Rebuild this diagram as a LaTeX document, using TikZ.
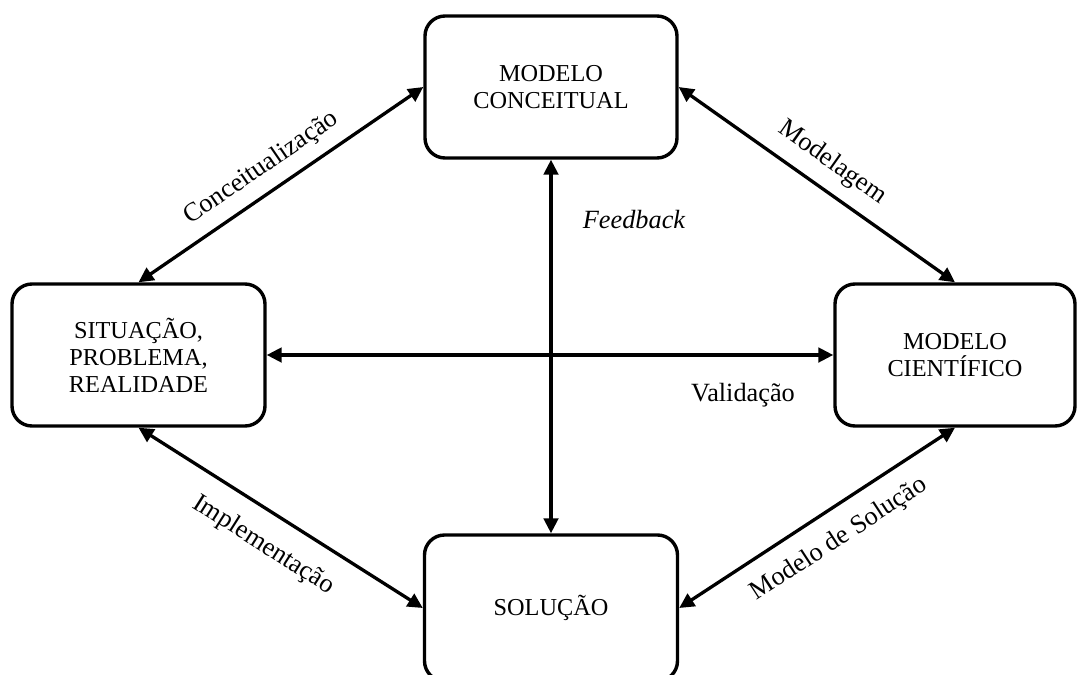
\documentclass[tikz,border=0pt]{standalone}
\usepackage{fontspec}
\setmainfont{Liberation Serif}
\usetikzlibrary{arrows.meta}
\begin{document}
\begin{tikzpicture}[x=1pt,y=-1pt,
  stage/.style={draw, line width=3.4pt, rounded corners=20pt, align=center,
    inner sep=0pt, font=\fontsize{24.3}{27}\selectfont},
  link/.style={line width=3.3pt,
    {Triangle[length=15pt,width=14.5pt]}-{Triangle[length=15pt,width=14.5pt]}},
  tag/.style={inner sep=0pt, font=\fontsize{26.3}{30}\selectfont}]
\useasboundingbox (0,0) rectangle (1077,675);

% the four stages of the cycle
\node[stage, minimum width=252pt, minimum height=142pt] (T) at (551,87) {MODELO\\CONCEITUAL};
\node[stage, minimum width=253pt, minimum height=142pt] (L) at (138.5,355) {SITUAÇÃO,\\PROBLEMA,\\REALIDADE};
\node[stage, minimum width=240pt, minimum height=142pt] (R) at (955,355) {MODELO\\CIENTÍFICO};
\node[stage, minimum width=253pt, minimum height=146pt] (B) at (551,608) {SOLUÇÃO};

% connectors between stages
\draw[link] (L.north) -- node[tag, sloped, pos=0.48, above=11pt] {Conceitualização} (T.west);
\draw[link] (T.east) -- node[tag, sloped, pos=0.5, above=13pt] {Modelagem} (R.north);
\draw[link] (L.south) -- node[tag, sloped, pos=0.5, below=19pt] {Implementação} (B.west);
\draw[link] (B.east) -- node[tag, sloped, pos=0.52, below=16.5pt] {Modelo de Solução} (R.south);
\draw[link] (L.east) -- (R.west);
\draw[link] (T.south) -- (B.north);

% free labels
\node[tag] (fb) at (634,220) {\itshape Feedback};
\node[tag] (val) at (743,395) {Validação};
\end{tikzpicture}
\end{document}
